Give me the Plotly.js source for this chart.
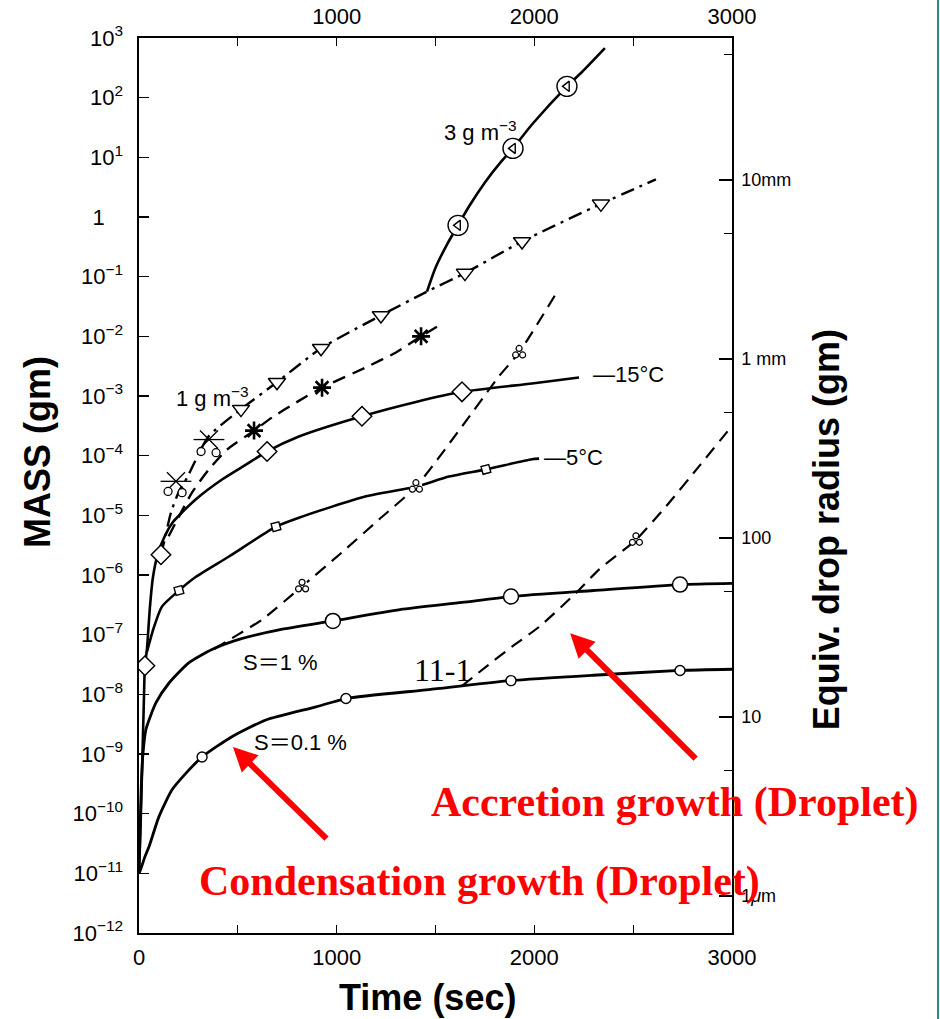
<!DOCTYPE html>
<html><head><meta charset="utf-8">
<script src="https://cdn.plot.ly/plotly-3.0.1.min.js"></script>
<style>html,body{margin:0;padding:0;background:#fff;}#chart{width:940px;height:1019px;}</style>
</head><body><div id="chart"></div>
<script>
// ---- data (time in sec, log10 of mass in gm) ----
const tS01 = [0,10,30,51,101,167,238,319,470,642,895,1047,1467,1882,2300,2737,3000];
const lmS01 = [-11.0,-10.92,-10.72,-10.55,-10.05,-9.60,-9.32,-9.05,-8.71,-8.43,-8.21,-8.07,-7.92,-7.77,-7.68,-7.60,-7.58];
const tS01Mk = [319,1047,1882,2737];
const lmS01Mk = [-9.05,-8.07,-7.77,-7.60];

const tS1 = [0,6,12,20,35,86,152,253,369,506,708,981,1320,1634,1882,2300,2737,3000];
const lmS1 = [-11.0,-10.2,-9.5,-9.0,-8.59,-8.14,-7.81,-7.47,-7.25,-7.08,-6.92,-6.77,-6.58,-6.46,-6.36,-6.26,-6.16,-6.14];
const tS1Mk = [981,1882,2737];
const lmS1Mk = [-6.77,-6.36,-6.16];

const tM15 = [0,8,16,24,30,40,55,70,95,130,170,218,288,420,541,648,809,1128,1401,1634,1988,2226];
const lmM15 = [-11.0,-10.2,-9.2,-8.2,-7.52,-7.25,-6.55,-6.05,-5.65,-5.35,-5.12,-4.95,-4.73,-4.40,-4.15,-3.93,-3.68,-3.34,-3.10,-2.93,-2.79,-2.69];
const tM15Mk = [30,111,648,1128,1634];
const lmM15Mk = [-7.52,-5.66,-3.93,-3.34,-2.93];

const tM5 = [40,76,116,202,288,455,693,809,1148,1401,1568,1755,1988,2024];
const lmM5 = [-7.29,-6.87,-6.53,-6.26,-6.03,-5.69,-5.19,-5.04,-4.68,-4.52,-4.35,-4.23,-4.06,-4.05];
const tM5Mk = [202,693,1755];
const lmM5Mk = [-6.26,-5.19,-4.23];

const tLwc1 = [111,126,162,202,243,349,516,698,921,1224,1457,1649,1938,2337,2615];
const lmLwc1 = [-5.66,-5.46,-4.95,-4.60,-4.37,-3.69,-3.22,-2.77,-2.20,-1.65,-1.25,-0.94,-0.41,0.22,0.63];
const tLwc1Mk = [516,698,921,1224,1649,1938,2337];
const lmLwc1Mk = [-3.22,-2.77,-2.20,-1.65,-0.94,-0.41,0.22];

const tSnow = [150,268,354,445,582,673,794,926,1148,1300,1427,1528];
const lmSnow = [-5.35,-4.62,-4.23,-3.90,-3.58,-3.36,-3.11,-2.86,-2.52,-2.27,-2.00,-1.80];
const tSnowMk = [582,926,1427];
const lmSnowMk = [-3.58,-2.86,-2.00];

const tCross = [187,354];
const lmCross = [-4.43,-3.73];
const tSmallCirc = [147,218,314,390];
const lmSmallCirc = [-4.60,-4.62,-3.93,-3.95];

const tLwc3 = [1457,1500,1560,1614,1670,1750,1830,1892,1988,2165,2241,2357];
const lmLwc3 = [-1.25,-0.85,-0.45,-0.14,0.18,0.58,0.92,1.15,1.55,2.19,2.43,2.83];
const tLwc3Mk = [1614,1892,2165];
const lmLwc3Mk = [-0.14,1.15,2.19];

const tAccA = [380,490,622,825,1027,1214,1401,1634,1821,1923,2105];
const lmAccA = [-7.24,-7.02,-6.75,-6.19,-5.62,-5.07,-4.52,-3.51,-2.67,-2.27,-1.31];
const tAccB = [1634,1755,1887,2024,2211,2327,2514,2666,2833,3000];
const lmAccB = [-7.86,-7.54,-7.20,-6.87,-6.30,-5.91,-5.41,-4.85,-4.18,-3.50];
const tTrefoil = [825,1401,1923,2514];
const lmTrefoil = [-6.19,-4.52,-2.27,-5.41];

// axes
const massTickVals = [1e3,1e2,1e1,1,1e-1,1e-2,1e-3,1e-4,1e-5,1e-6,1e-7,1e-8,1e-9,1e-10,1e-11,1e-12];
const massTickText = ['10<sup>3</sup>','10<sup>2</sup>','10<sup>1</sup>','1\u00a0\u00a0\u00a0','10<sup>−1</sup>','10<sup>−2</sup>','10<sup>−3</sup>','10<sup>−4</sup>','10<sup>−5</sup>','10<sup>−6</sup>','10<sup>−7</sup>','10<sup>−8</sup>','10<sup>−9</sup>','10<sup>−10</sup>','10<sup>−11</sup>','10<sup>−12</sup>'];
const radiusTickMass = [4.18879,4.18879e-3,4.18879e-6,4.18879e-9,4.18879e-12];
const radiusTickText = ['10mm','1 mm','100','10','1<i>μ</i>m'];
const radiusMinorMass = [523.6,0.5236,5.236e-4,5.236e-7,5.236e-10];
const timeTickVals = [0,500,1000,1500,2000,2500,3000];
const timeTickBottom = ['0','','1000','','2000','','3000'];
const timeTickTop = ['','','1000','','2000','','3000'];

const P = a => a.map(v => Math.pow(10, v));

const traces = [];
function line(t, lm, dash, w, onSecond){
  const tr = {x:t, y:P(lm), mode:'lines', type:'scatter', hoverinfo:'skip',
    line:{color:'#000', width:w||2.6, dash:dash||'solid', shape:'spline', smoothing:0.6}};
  if (onSecond){ tr.xaxis='x2'; tr.yaxis='y2'; }
  traces.push(tr);
}
function mk(t, lm, symbol, size, fill, lw, angle, xa, ya){
  const tr = {x:t, y:P(lm), mode:'markers', type:'scatter', hoverinfo:'skip',
    marker:{symbol:symbol, size:size, color:fill||'#fff', angle:angle||0,
      line:{color:'#000', width:(lw===undefined ? 1.4 : lw)}}};
  if (xa) tr.xaxis = xa;
  if (ya) tr.yaxis = ya;
  traces.push(tr);
}
const DASH = '13px,8px';
const DASHDOT = '14px,6px,3px,6px';

line(tS01, lmS01, 'solid', 2.8);
line(tS1, lmS1, 'solid', 2.8);
line(tM15, lmM15, 'solid', 2.6);
line(tM5, lmM5, 'solid', 2.6);
line(tLwc1, lmLwc1, DASHDOT, 2.4);
line(tSnow, lmSnow, DASH, 2.4);
line(tLwc3, lmLwc3, 'solid', 2.6);
line(tAccA, lmAccA, DASH, 2.2);
line(tAccB, lmAccB, DASH, 2.2, true);   // drawn on the twin (top/right) axes, identical ranges

mk(tS01Mk, lmS01Mk, 'circle', 10, '#fff', 1.4);
mk(tS1Mk, lmS1Mk, 'circle', 15, '#fff', 1.5);
mk(tM15Mk, lmM15Mk, 'diamond', 15, '#fff', 1.5);
mk(tM5Mk, lmM5Mk, 'square', 8, '#fff', 1.4, -15);
mk(tLwc1Mk, lmLwc1Mk, 'triangle-down', 15, '#fff', 1.5);
mk(tSnowMk, lmSnowMk, 'asterisk-open', 15, '#000', 2.6);
mk(tCross, lmCross, 'x-thin-open', 18, '#000', 1.3);
mk(tCross, lmCross, 'line-ew-open', 22, '#000', 1.3);
mk(tSmallCirc, lmSmallCirc, 'circle', 8, '#fff', 1.3);
mk(tLwc3Mk, lmLwc3Mk, 'circle', 20, '#fff', 1.4);
mk(tLwc3Mk, lmLwc3Mk, 'triangle-left-open', 9, '#000', 1.4);
// trefoil marks: a white patch, then three small rings drawn on hidden twin axes whose
// ranges are nudged by a few pixels so the rings sit around the same data point
mk(tTrefoil, lmTrefoil, 'circle', 13, '#fff', 0);
mk(tTrefoil, lmTrefoil, 'circle', 6, '#fff', 1.2, 0, 'x', 'y3');   // top ring
mk(tTrefoil, lmTrefoil, 'circle', 6, '#fff', 1.2, 0, 'x3', 'y4');  // lower-left ring
mk(tTrefoil, lmTrefoil, 'circle', 6, '#fff', 1.2, 0, 'x4', 'y4');  // lower-right ring

const tickFont = {family:'Liberation Sans, Arial, sans-serif', size:22, color:'#000'};
const lblFont = {family:'Liberation Sans, Noto Sans CJK JP, sans-serif', size:22, color:'#000'};
const titleFont = {family:'Liberation Sans, Arial, sans-serif', size:36, color:'#000', weight:'bold'};
const redFont = {family:'Liberation Serif, Times New Roman, serif', size:42, color:'#ff0000', weight:'bold'};

function lbl(text, x, y, font){
  return {text:text, x:x, y:y, xref:'x', yref:'y', showarrow:false, xanchor:'left', yanchor:'middle', font:font||lblFont};
}
function ptxt(text, x, y, font, angle){
  return {text:text, xref:'paper', yref:'paper', x:x, y:y, xanchor:'center', yanchor:'middle', textangle:angle||0, showarrow:false, font:font};
}

const axCommon = {ticks:'inside', tickwidth:1.3, tickcolor:'#000', showline:true, linecolor:'#000', linewidth:1.6,
  showgrid:false, zeroline:false};
// pixel nudges for the trefoil rings, expressed in axis units
const NX = 3.5 * 3000 / 593;     // ~3.5 px horizontally
const NYU = 4 / 59.67;           // ~4 px up (decades)
const NYD = 2.5 / 59.67;         // ~2.5 px down
const hidden = {visible:false, showgrid:false, zeroline:false, fixedrange:true};

const layout = {
  width:940, height:1019,
  margin:{l:139, r:208, t:38, b:86, pad:0},
  paper_bgcolor:'#fff', plot_bgcolor:'#fff',
  showlegend:false,
  xaxis:Object.assign({range:[0,3000], tickmode:'array', tickvals:timeTickVals, ticktext:timeTickBottom,
    ticklen:8, tickfont:tickFont, ticklabelstandoff:4}, axCommon),
  xaxis2:Object.assign({range:[0,3000], overlaying:'x', side:'top', anchor:'y2', tickmode:'array', tickvals:timeTickVals, ticktext:timeTickTop,
    ticklen:8, tickfont:tickFont, ticklabelstandoff:4}, axCommon),
  xaxis3:Object.assign({range:[NX, 3000+NX], overlaying:'x', anchor:'y'}, hidden),
  xaxis4:Object.assign({range:[-NX, 3000-NX], overlaying:'x', anchor:'y'}, hidden),
  yaxis:Object.assign({type:'log', range:[-12,3], tickmode:'array', tickvals:massTickVals, ticktext:massTickText,
    ticklen:10, tickfont:tickFont, ticklabelstandoff:10}, axCommon),
  yaxis2:Object.assign({type:'log', range:[-12,3], overlaying:'y', side:'right', anchor:'x2', tickmode:'array',
    tickvals:radiusTickMass, ticktext:radiusTickText, ticklen:13,
    tickfont:{family:'Liberation Sans, Arial, sans-serif', size:18, color:'#000'}, ticklabelstandoff:4,
    minor:{tickmode:'array', tickvals:radiusMinorMass, ticks:'inside', ticklen:8, tickwidth:1.2, tickcolor:'#000', showgrid:false}}, axCommon),
  yaxis3:Object.assign({type:'log', range:[-12-NYU, 3-NYU], overlaying:'y', anchor:'x'}, hidden),
  yaxis4:Object.assign({type:'log', range:[-12+NYD, 3+NYD], overlaying:'y', anchor:'x'}, hidden),
  annotations:[
    lbl('1 g m<sup>−3</sup>', 177, -3.01),
    lbl('3 g m<sup>−3</sup>', 1533, 1.44),
    lbl('—15°C', 2287, -2.64),
    lbl('—5°C', 2039, -4.03),
    lbl('S＝1 %', 516, -7.47),
    lbl('S＝0.1 %', 572, -8.80),
    lbl('11-1', 1381, -7.59, {family:'Liberation Serif, serif', size:32, color:'#000'}),
    ptxt('MASS (gm)', -0.171, 0.537, titleFont, -90),
    ptxt('Equiv. drop radius (gm)', 1.1585, 0.451, titleFont, -90),
    ptxt('Time (sec)', 0.486, -0.0726, titleFont),
    ptxt('Accretion growth (Droplet)', 0.904, 0.146, redFont),
    ptxt('Condensation growth (Droplet)', 0.575, 0.057, redFont),
    {text:'', xref:'paper', yref:'paper', x:0.727, y:0.335, ax:127, ay:127, showarrow:true, arrowhead:2, arrowsize:0.8, arrowwidth:6, arrowcolor:'#ff0000', standoff:0, startstandoff:0},
    {text:'', xref:'paper', yref:'paper', x:0.1585, y:0.2078, ax:95, ay:93, showarrow:true, arrowhead:2, arrowsize:0.8, arrowwidth:6, arrowcolor:'#ff0000', standoff:0, startstandoff:0}
  ],
  shapes:[
    {type:'line', xref:'paper', yref:'paper', x0:1.3474, x1:1.3474, y0:-0.097, y1:1.043, line:{color:'#2a8a86', width:2}}
  ]
};

Plotly.newPlot('chart', traces, layout, {displayModeBar:false, staticPlot:true});
</script></body></html>
